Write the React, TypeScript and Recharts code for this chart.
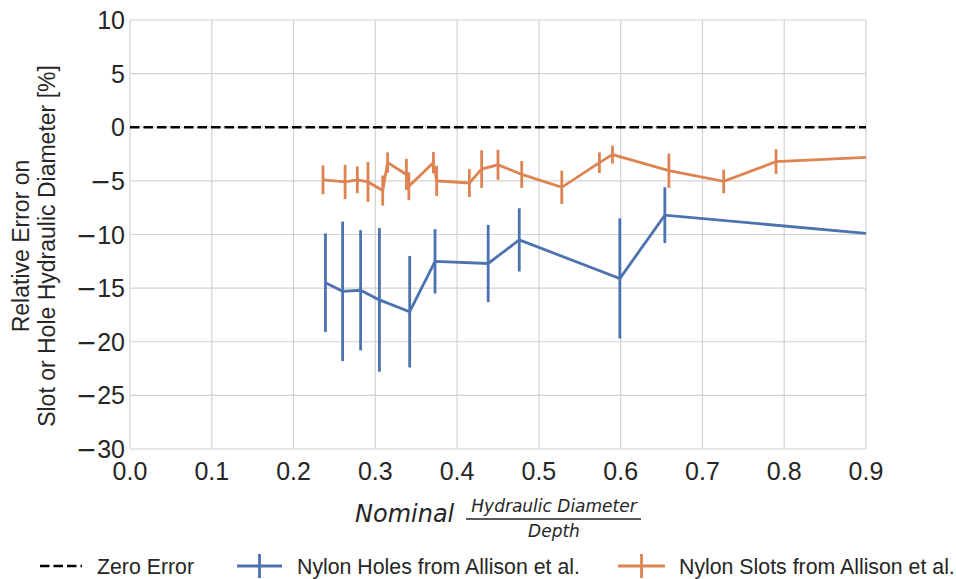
import React from 'react';
import { LineChart, Line, XAxis, YAxis, CartesianGrid, ReferenceLine, ErrorBar } from 'recharts';

// values
const holesX = [0.239, 0.26, 0.282, 0.305, 0.342, 0.373, 0.438, 0.476, 0.599, 0.654, 0.9];
const holesY = [-14.5, -15.3, -15.2, -16.1, -17.2, -12.5, -12.7, -10.5, -14.1, -8.2, -9.9];
const holesErr = [4.6, 6.5, 5.6, 6.7, 5.2, 3.0, 3.6, 2.95, 5.6, 2.6, 0];

const slotsX = [0.236, 0.263, 0.278, 0.291, 0.309, 0.315, 0.338, 0.341, 0.371, 0.375, 0.415, 0.43, 0.45, 0.479, 0.528, 0.574, 0.59, 0.659, 0.726, 0.79, 0.9];
const slotsY = [-4.9, -5.1, -4.9, -5.1, -5.9, -3.3, -4.4, -5.5, -3.3, -5.0, -5.2, -3.9, -3.5, -4.4, -5.6, -3.3, -2.55, -4.05, -5.05, -3.2, -2.8];
const slotsErr = [1.35, 1.6, 1.25, 1.85, 1.4, 0.95, 1.45, 1.3, 1.0, 1.4, 1.3, 1.75, 1.4, 1.25, 1.55, 0.96, 0.84, 1.6, 1.1, 1.15, 0];

const xTicks = [0, 0.1, 0.2, 0.3, 0.4, 0.5, 0.6, 0.7, 0.8, 0.9];
const yTicks = [-30, -25, -20, -15, -10, -5, 0, 5, 10];

const BLUE = '#4c72b0';
const ORANGE = '#dd8452';
const GRID = '#d2d2d2';
const TEXT = '#262626';
const FONT = '"Liberation Sans", Arial, sans-serif';

const holes = holesX.map((x, i) => ({ x, y: holesY[i], err: holesErr[i] }));
const slots = slotsX.map((x, i) => ({ x, y: slotsY[i], err: slotsErr[i] }));

const W = 956;
const H = 579;

// y tick with a wide minus sign like the reference
const YTick = (props: any) => {
  const { x, y, payload } = props;
  const v: number = payload.value;
  return (
    <text x={x} y={y} dy="0.36em" textAnchor="end" fill={TEXT} fontSize={25} fontFamily={FONT}>
      {v < 0 && <tspan fontFamily='"DejaVu Sans", sans-serif'>{'\u2212'}</tspan>}
      <tspan>{Math.abs(v)}</tspan>
    </text>
  );
};

export default function App() {
  return (
    <div style={{ position: 'fixed', left: 0, top: 0, width: W, height: H, background: '#fff' }}>
      <LineChart width={W} height={H} margin={{ top: 20, right: 90, bottom: 90, left: 0 }}>
        <CartesianGrid stroke={GRID} strokeWidth={1.2} />
        <XAxis
          type="number"
          dataKey="x"
          domain={[0, 0.9]}
          ticks={xTicks}
          allowDataOverflow
          axisLine={false}
          tickLine={false}
          tickSize={0}
          tickMargin={13}
          height={40}
          tickFormatter={(v: number) => v.toFixed(1)}
          tick={{ fill: TEXT, fontSize: 25, fontFamily: FONT }}
        />
        <YAxis
          type="number"
          domain={[-30, 10]}
          ticks={yTicks}
          allowDataOverflow
          axisLine={false}
          tickLine={false}
          tickSize={0}
          tickMargin={5}
          width={130}
          tick={<YTick />}
        />
        <ReferenceLine y={0} stroke="#000" strokeWidth={2.6} strokeDasharray="9.5 4" />
        <Line
          data={holes}
          dataKey="y"
          stroke={BLUE}
          strokeWidth={2.8}
          dot={false}
          isAnimationActive={false}
        >
          <ErrorBar dataKey="err" direction="y" width={0} stroke={BLUE} strokeWidth={2.8} />
        </Line>
        <Line
          data={slots}
          dataKey="y"
          stroke={ORANGE}
          strokeWidth={2.8}
          dot={false}
          isAnimationActive={false}
        >
          <ErrorBar dataKey="err" direction="y" width={0} stroke={ORANGE} strokeWidth={2.8} />
        </Line>
      </LineChart>
      <svg
        width={W}
        height={H}
        style={{ position: 'absolute', left: 0, top: 0, pointerEvents: 'none' }}
      >
        {/* y axis label */}
        <g fill={TEXT} fontFamily={FONT} fontSize={23} textAnchor="middle">
          <text transform="translate(28.5,246) rotate(-90)">Relative Error on</text>
          <text transform="translate(55,246) rotate(-90)">Slot or Hole Hydraulic Diameter [%]</text>
        </g>
        {/* x axis label */}
        <g fill={TEXT} fontFamily='"DejaVu Sans", sans-serif' fontStyle="italic">
          <text x={355} y={522} fontSize={24}>Nominal</text>
          <text x={554} y={512} fontSize={17} textAnchor="middle">Hydraulic Diameter</text>
          <line x1={466} x2={641} y1={519} y2={519} stroke={TEXT} strokeWidth={1.3} />
          <text x={554} y={537} fontSize={17} textAnchor="middle">Depth</text>
        </g>
        {/* legend */}
        <g fontFamily={FONT} fontSize={21.3} fill={TEXT}>
          <line x1={40} x2={82} y1={566} y2={566} stroke="#000" strokeWidth={2.6} strokeDasharray="9.5 4" />
          <text x={97} y={574}>Zero Error</text>
          <line x1={237} x2={282} y1={566} y2={566} stroke={BLUE} strokeWidth={2.8} />
          <line x1={259.5} x2={259.5} y1={554} y2={578} stroke={BLUE} strokeWidth={2.8} />
          <text x={297} y={574}>Nylon Holes from Allison et al.</text>
          <line x1={618} x2={665} y1={566} y2={566} stroke={ORANGE} strokeWidth={2.8} />
          <line x1={641.5} x2={641.5} y1={554} y2={578} stroke={ORANGE} strokeWidth={2.8} />
          <text x={679} y={574}>Nylon Slots from Allison et al.</text>
        </g>
      </svg>
    </div>
  );
}
